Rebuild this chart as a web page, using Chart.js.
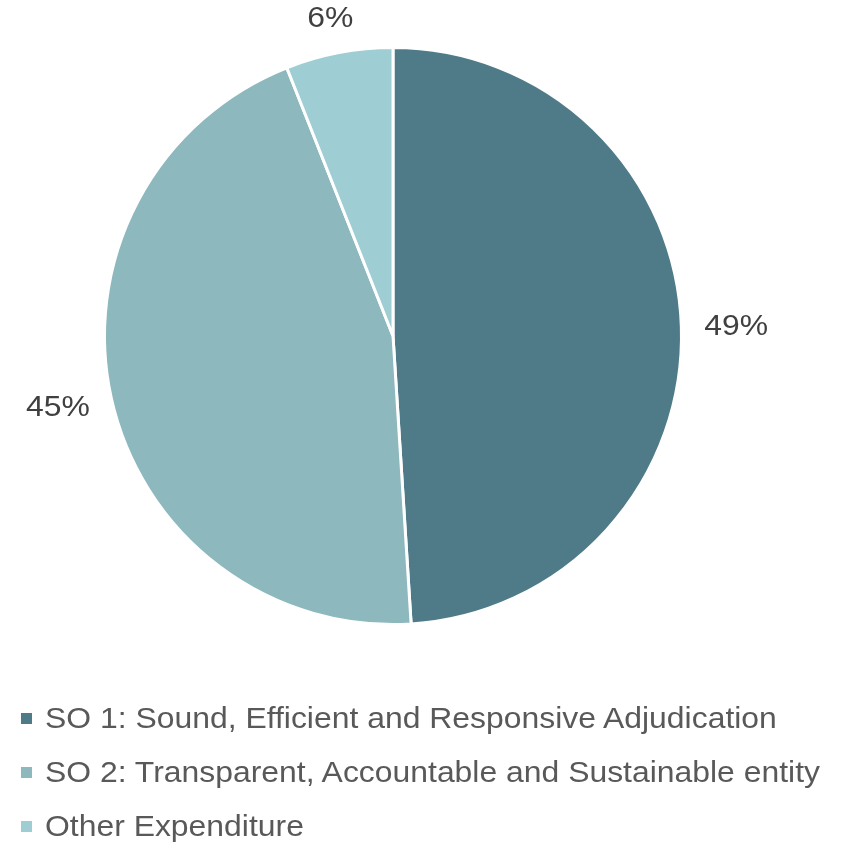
<!DOCTYPE html>
<html>
<head>
<meta charset="utf-8">
<script src="https://cdn.jsdelivr.net/npm/chart.js@4"></script>
<style>
  html, body { margin: 0; padding: 0; background: #fff; }
  #wrap { position: relative; width: 843px; height: 843px; }
  #legend {
    position: absolute; left: 0; top: 691px; width: 843px;
    font-family: "Liberation Sans", Arial, sans-serif; font-size: 29px; color: #595959;
  }
  .row { height: 54px; display: flex; align-items: center; }
  .box { width: 11px; height: 11px; margin-left: 21px; margin-right: 13px; flex: none; }
  .txt { white-space: nowrap; transform: scaleX(1.1); transform-origin: left center; }
</style>
</head>
<body>
<div id="wrap">
  <canvas id="chart"></canvas>
  <div id="legend"></div>
</div>
<script>
const categories = [
  "SO 1: Sound, Efficient and Responsive Adjudication",
  "SO 2: Transparent, Accountable and Sustainable entity",
  "Other Expenditure"
];
const values = [49, 45, 6];
const colors = ["#4f7b88", "#8db8bd", "#9ecdd3"];

// percentage labels outside the slices
const outsideLabels = {
  id: "outsideLabels",
  afterDatasetsDraw(chart) {
    const ctx = chart.ctx;
    const meta = chart.getDatasetMeta(0);
    const total = values.reduce((a, b) => a + b, 0);
    const gap = 23;
    ctx.save();
    ctx.font = '29px "Liberation Sans", Arial, sans-serif';
    ctx.fillStyle = "#404040";
    ctx.textAlign = "center";
    ctx.textBaseline = "middle";
    meta.data.forEach((arc, i) => {
      const a = (arc.startAngle + arc.endAngle) / 2;
      const dx = Math.cos(a), dy = Math.sin(a);
      const text = Math.round(values[i] / total * 100) + "%";
      const w = ctx.measureText(text).width * 1.1;
      const r = arc.outerRadius + gap;
      const x = arc.x + dx * r + dx * w / 2;
      const y = arc.y + dy * r + dy * 12;
      ctx.save();
      ctx.translate(x, y);
      ctx.scale(1.1, 1);
      ctx.fillText(text, 0, 1);
      ctx.restore();
    });
    ctx.restore();
  }
};

const chart = new Chart(document.getElementById("chart"), {
  type: "pie",
  data: {
    labels: categories,
    datasets: [{
      data: values,
      backgroundColor: colors,
      borderColor: "#ffffff",
      borderWidth: 3
    }]
  },
  options: {
    responsive: true,
    maintainAspectRatio: false,
    animation: false,
    layout: { padding: { top: 46, left: 103, right: 160, bottom: 217 } },
    plugins: {
      legend: { display: false },
      tooltip: { enabled: false }
    }
  },
  plugins: [outsideLabels]
});

// html legend built from the chart's own legend items
const items = chart.options.plugins.legend.labels.generateLabels(chart);
const legendEl = document.getElementById("legend");
items.forEach((it) => {
  const row = document.createElement("div");
  row.className = "row";
  const box = document.createElement("span");
  box.className = "box";
  box.style.background = it.fillStyle;
  const txt = document.createElement("span");
  txt.className = "txt";
  txt.textContent = it.text;
  row.appendChild(box);
  row.appendChild(txt);
  legendEl.appendChild(row);
});
</script>
</body>
</html>
